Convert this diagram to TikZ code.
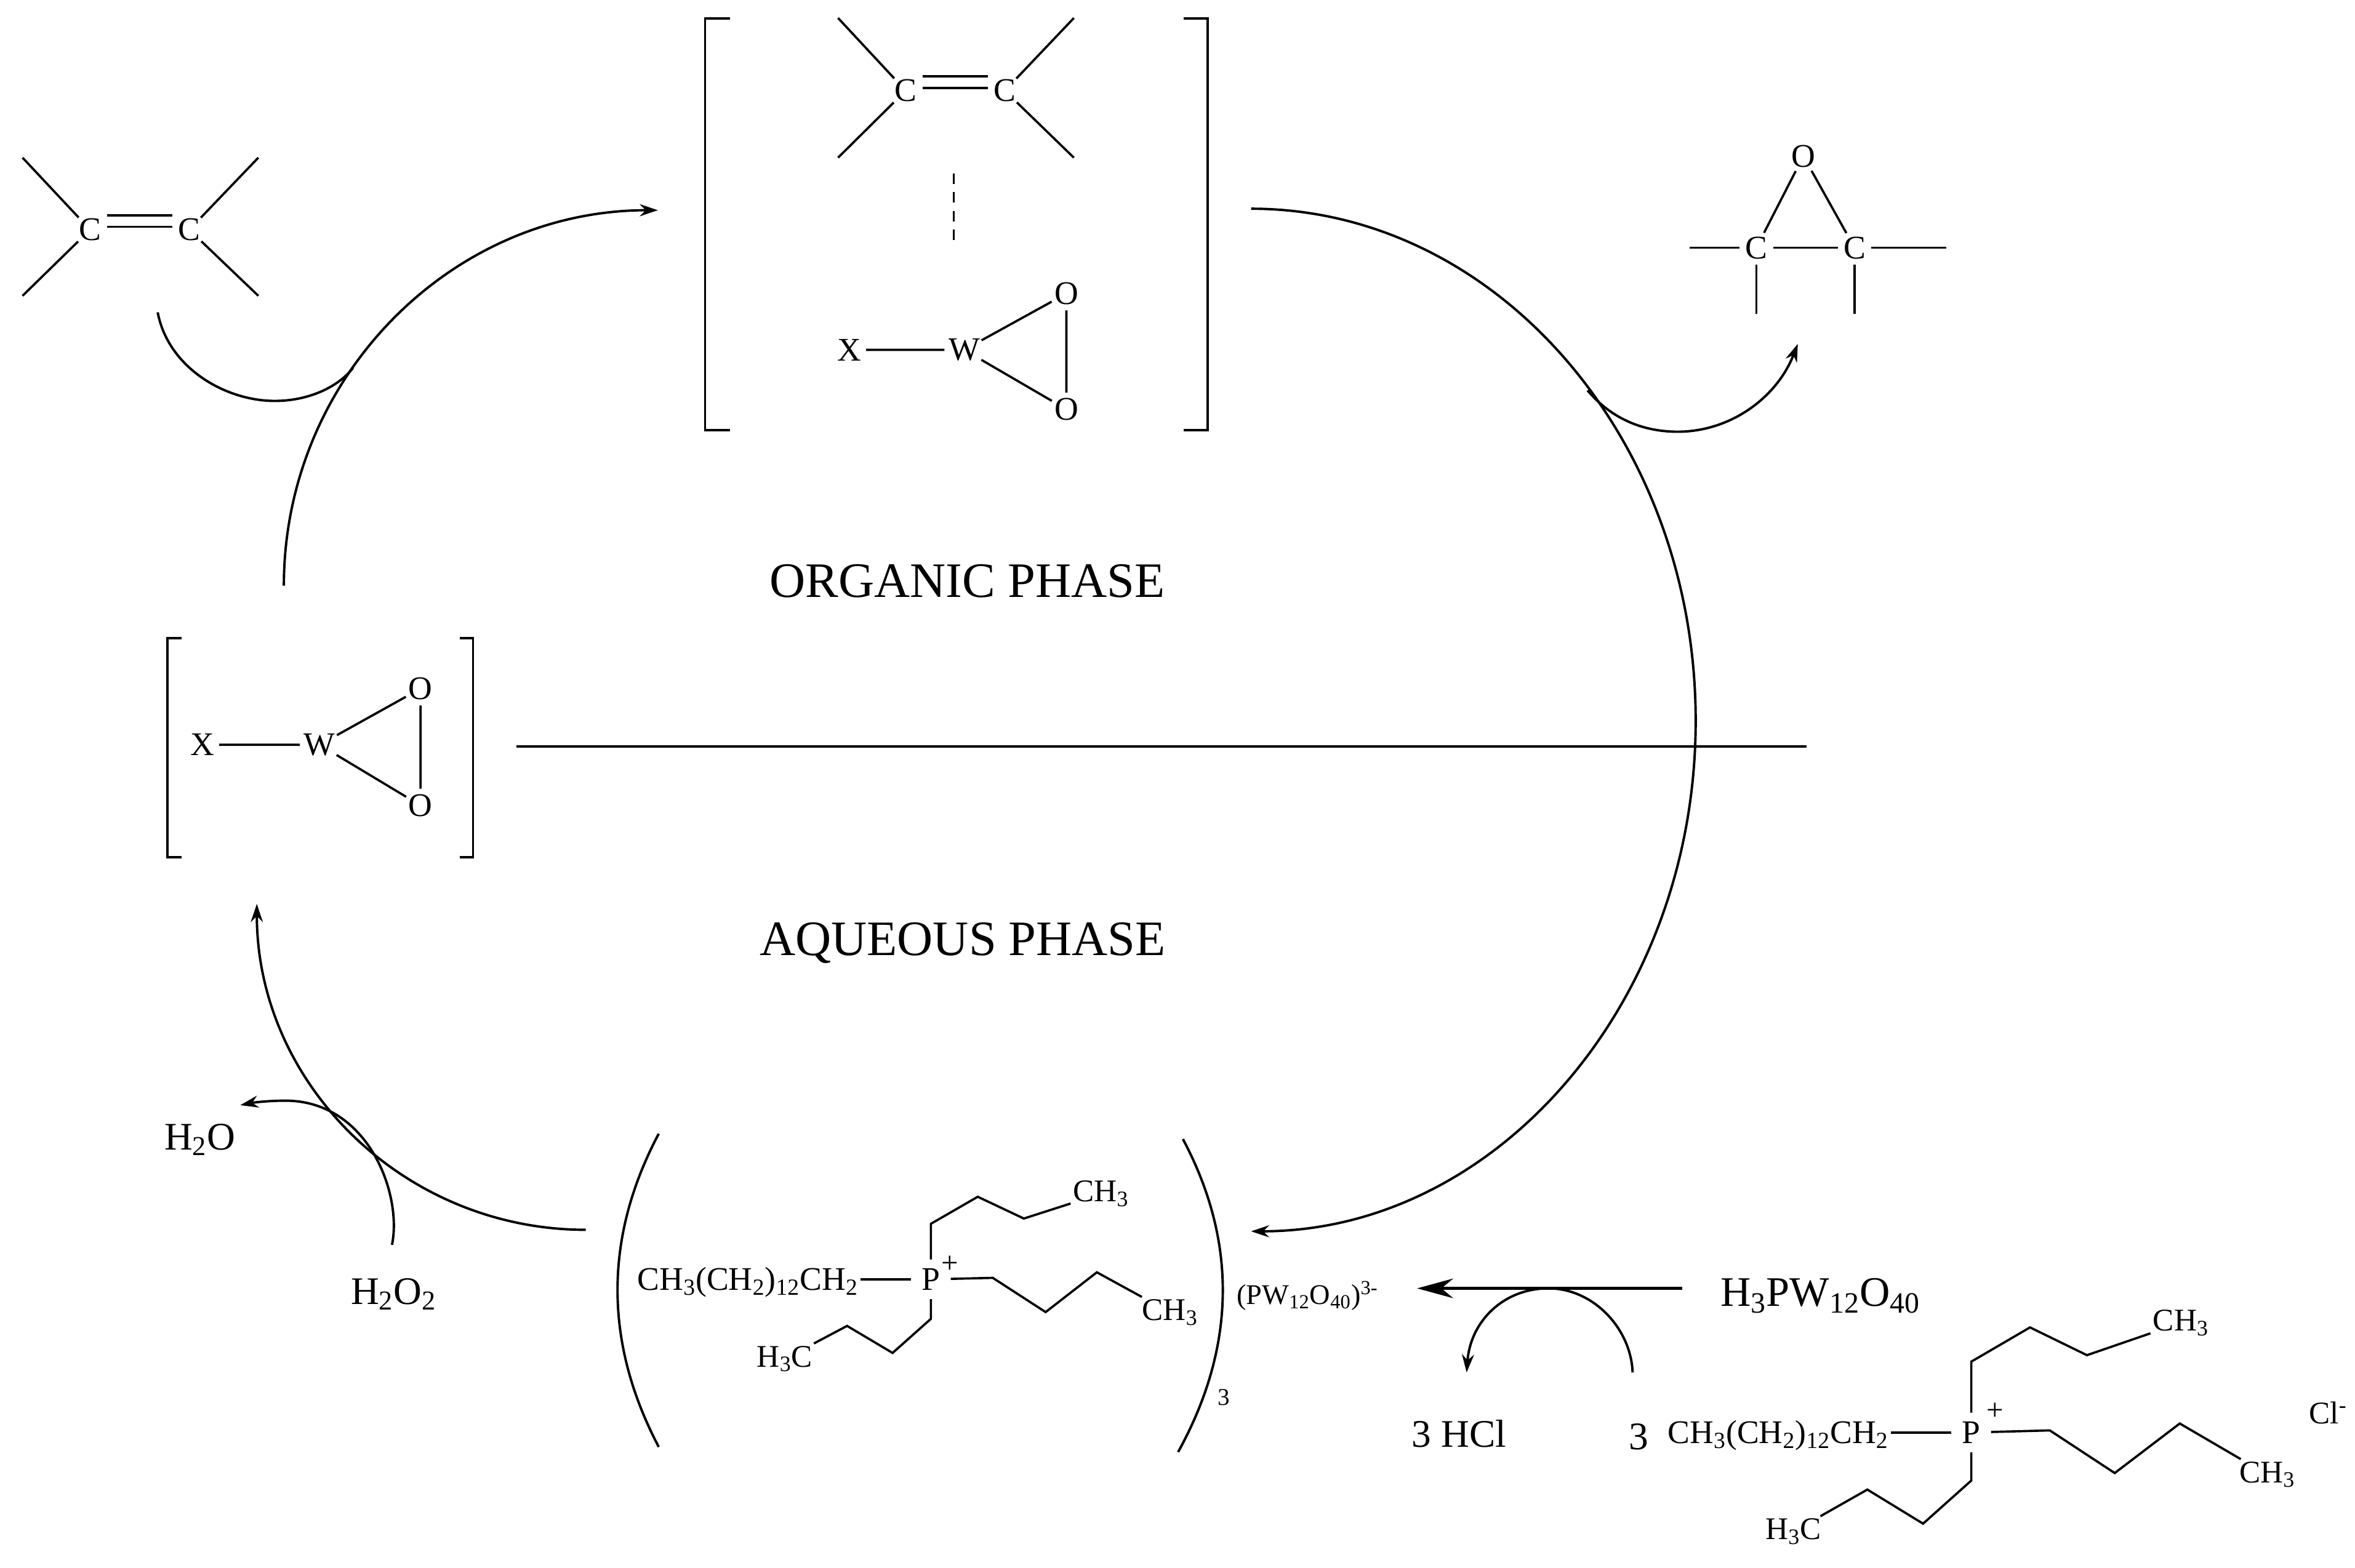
\documentclass[tikz,border=0pt]{standalone}
\usepackage{fontspec}
\setmainfont{Liberation Serif}
\usetikzlibrary{arrows.meta}

\tikzset{
  atom/.style={circle,inner sep=0pt,minimum size=22pt,font=\fontsize{22}{24}\selectfont},
  bigatom/.style={atom,minimum size=26pt},
  group/.style={inner sep=1.5pt,font=\fontsize{21}{24}\selectfont},
  chaingroup/.style={inner sep=1.5pt,font=\fontsize{22}{24}\selectfont},
  reagent/.style={inner sep=1pt,font=\fontsize{26}{30}\selectfont},
  phase/.style={inner sep=1pt,font=\fontsize{33}{38}\selectfont},
  bond/.style={line width=1.5pt},
  curve/.style={line width=1.6pt},
  curvearrow/.style={curve,-{Stealth[length=12pt,width=8pt]}},
}

\begin{document}
\begin{tikzpicture}[x=1pt,y=-1pt]
  \useasboundingbox (0,0) rectangle (1568,1044);

  % alkene, left
  \node[atom] (cL) at (60,153) {C};
  \node[atom] (cR) at (126,153) {C};
  \coordinate (cLa) at (15,105);
  \coordinate (cLb) at (15,197);
  \coordinate (cRa) at (172,105);
  \coordinate (cRb) at (172,197);
  \draw[bond] (cLa) -- (cL) -- (cLb);
  \draw[bond] (cRa) -- (cR) -- (cRb);
  \draw[bond] ([yshift=9.5pt]cL.east) -- ([yshift=9.5pt]cR.west);
  \draw[bond] ([yshift=2pt]cL.east) -- ([yshift=2pt]cR.west);

  % complex in the top bracket
  \node[atom] (cTL) at (603,60.4) {C};
  \node[atom] (cTR) at (669,60.4) {C};
  \coordinate (cTLa) at (558,12);
  \coordinate (cTLb) at (558,105);
  \coordinate (cTRa) at (715,12);
  \coordinate (cTRb) at (715,105);
  \draw[bond] (cTLa) -- (cTL) -- (cTLb);
  \draw[bond] (cTRa) -- (cTR) -- (cTRb);
  \draw[bond] ([yshift=9.6pt]cTL.east) -- ([yshift=9.6pt]cTR.west);
  \draw[bond] ([yshift=1.8pt]cTL.east) -- ([yshift=1.8pt]cTR.west);
  \coordinate (dashA) at (635,115.5);
  \coordinate (dashB) at (635,160);
  \draw[bond,dash pattern=on 7pt off 5.5pt] (dashA) -- (dashB);

  \node[atom] (xT) at (565.5,233) {X};
  \node[bigatom] (wT) at (642,233) {W};
  \node[atom] (oTa) at (710,195.5) {O};
  \node[atom] (oTb) at (710,272.6) {O};
  \draw[bond] (xT) -- (wT) -- (oTa) -- (oTb) -- (wT);

  \coordinate (brTLa) at (486,12.3);
  \coordinate (brTLb) at (469.5,12.3);
  \coordinate (brTLc) at (469.5,286.5);
  \coordinate (brTLd) at (486,286.5);
  \coordinate (brTRa) at (788,12.3);
  \coordinate (brTRb) at (804,12.3);
  \coordinate (brTRc) at (804,286.5);
  \coordinate (brTRd) at (788,286.5);
  \draw[bond] (brTLa) -- (brTLb) -- (brTLc) -- (brTLd);
  \draw[bond] (brTRa) -- (brTRb) -- (brTRc) -- (brTRd);

  % epoxide
  \node[atom] (oE) at (1200.7,104) {O};
  \node[atom] (cEL) at (1169.4,165) {C};
  \node[atom] (cER) at (1234.8,165) {C};
  \coordinate (cELa) at (1125,165);
  \coordinate (cELb) at (1169.4,209);
  \coordinate (cERa) at (1296,165);
  \coordinate (cERb) at (1234.8,209);
  \draw[bond] (cEL) -- (oE) -- (cER);
  \draw[bond] (cELa) -- (cEL) -- (cER) -- (cERa);
  \draw[bond] (cEL) -- (cELb);
  \draw[bond] (cER) -- (cERb);

  % the bracket on the phase line
  \node[atom] (xM) at (134.7,496) {X};
  \node[bigatom] (wM) at (212.8,496) {W};
  \node[atom] (oMa) at (280,458.6) {O};
  \node[atom] (oMb) at (280,536.4) {O};
  \draw[bond] (xM) -- (wM) -- (oMa) -- (oMb) -- (wM);

  \coordinate (brMLa) at (121,425);
  \coordinate (brMLb) at (111.5,425);
  \coordinate (brMLc) at (111.5,571);
  \coordinate (brMLd) at (121,571);
  \coordinate (brMRa) at (306,425);
  \coordinate (brMRb) at (315,425);
  \coordinate (brMRc) at (315,571);
  \coordinate (brMRd) at (306,571);
  \draw[bond] (brMLa) -- (brMLb) -- (brMLc) -- (brMLd);
  \draw[bond] (brMRa) -- (brMRb) -- (brMRc) -- (brMRd);

  \coordinate (lineA) at (344,497);
  \coordinate (lineB) at (1203,497);
  \draw[bond] (lineA) -- (lineB);
  \node[phase] (orgPhase) at (644,387) {ORGANIC PHASE};
  \node[phase] (aqPhase) at (641,628) {AQUEOUS PHASE};

  % the cycle
  \coordinate (cycA) at (189,390);
  \coordinate (cycB) at (438,140);
  \draw[curvearrow] (cycA) .. controls (189,252) and (300,140) .. (cycB);
  \coordinate (cycC) at (833,139);
  \coordinate (cycD) at (1129,480);
  \coordinate (cycE) at (833,820);
  \draw[curvearrow] (cycC) .. controls (996,139) and (1129,292) .. (cycD)
    .. controls (1129,668) and (996,820) .. (cycE);
  \coordinate (cycF) at (390,819);
  \coordinate (cycG) at (171,602);
  \draw[curvearrow] (cycF) .. controls (269,819) and (171,722) .. (cycG);

  % alkene going in
  \coordinate (inA) at (105,208);
  \coordinate (inB) at (183,267);
  \coordinate (inC) at (235,245);
  \draw[curve] (inA) .. controls (112,245) and (150,267) .. (inB)
    .. controls (205,267) and (225,258) .. (inC);

  % epoxide going out
  \coordinate (outA) at (1057,260);
  \coordinate (outB) at (1117,287.5);
  \coordinate (outC) at (1197,229);
  \draw[curvearrow] (outA) .. controls (1073,279) and (1094,287.5) .. (outB)
    .. controls (1152,287.5) and (1183,265) .. (outC);

  % peroxide
  \node[reagent] (hhoo) at (262,862) {H\textsubscript{2}O\textsubscript{2}};
  \node[reagent] (hho) at (133,759) {H\textsubscript{2}O};
  \coordinate (perA) at (261,829);
  \coordinate (perB) at (190,733);
  \coordinate (perC) at (160,736);
  \draw[curvearrow] (perA) .. controls (268,795) and (245,733) .. (perB)
    .. controls (180,733) and (170,734) .. (perC);

  % catalyst
  \coordinate (parLa) at (438.6,755);
  \coordinate (parLb) at (438.6,963.6);
  \coordinate (parRa) at (787.6,758.6);
  \coordinate (parRb) at (784.4,967);
  \draw[curve] (parLa) .. controls (402,824) and (402,894) .. (parLb);
  \draw[curve] (parRa) .. controls (824,827) and (823,897) .. (parRb);
  \node[inner sep=0pt,font=\fontsize{16}{18}\selectfont] (parN) at (815,930.6) {3};
  \node[inner sep=0pt,font=\fontsize{19}{20}\selectfont] (anion) at (870.5,863)
    {(PW\textsubscript{12}O\textsubscript{40})\textsuperscript{3-}};

  \node[bigatom] (pA) at (619.8,852) {P};
  \node[inner sep=0pt,font=\fontsize{20}{22}\selectfont] (plusA) at (632.3,842) {+};
  \node[chaingroup,anchor=east] (chainA) at (573,854) {CH\textsubscript{3}(CH\textsubscript{2})\textsubscript{12}CH\textsubscript{2}};
  \node[group] (meAa) at (733,795) {CH\textsubscript{3}};
  \node[group] (meAb) at (779,874) {CH\textsubscript{3}};
  \node[group] (meAc) at (522.5,905) {H\textsubscript{3}C};
  \coordinate (upAa) at (619.8,815);
  \coordinate (upAb) at (651,797);
  \coordinate (upAc) at (681.7,811.5);
  \coordinate (riAa) at (661,851);
  \coordinate (riAb) at (696.2,873.8);
  \coordinate (riAc) at (730.3,847.3);
  \coordinate (doAa) at (619.8,878.3);
  \coordinate (doAb) at (594.3,901);
  \coordinate (doAc) at (564,883);
  \draw[bond] (chainA.east |- pA) -- (pA);
  \draw[bond] (pA) -- (upAa) -- (upAb) -- (upAc) -- (meAa);
  \draw[bond] (pA) -- (riAa) -- (riAb) -- (riAc) -- (meAb);
  \draw[bond] (pA) -- (doAa) -- (doAb) -- (doAc) -- (meAc);

  % making the catalyst
  \node[reagent,font=\fontsize{28}{30}\selectfont] (hpw) at (1212,863) {H\textsubscript{3}PW\textsubscript{12}O\textsubscript{40}};
  \coordinate (mkA) at (1120,858);
  \coordinate (mkB) at (943.5,858);
  \draw[line width=2.2pt,-{Stealth[length=24pt,width=13pt]}] (mkA) -- (mkB);
  \coordinate (hclA) at (1087,914);
  \coordinate (hclB) at (1031,858);
  \coordinate (hclC) at (976.5,914);
  \draw[curvearrow] (hclA) .. controls (1086,885) and (1061,858) .. (hclB)
    .. controls (1001,858) and (979,880) .. (hclC);
  \node[reagent] (hcl) at (971.5,955) {3 HCl};
  \node[reagent] (three) at (1091,957) {3};

  \node[bigatom] (pB) at (1312.5,954) {P};
  \node[inner sep=0pt,font=\fontsize{20}{22}\selectfont] (plusB) at (1328.5,940) {+};
  \node[chaingroup,anchor=east] (chainB) at (1259,956) {CH\textsubscript{3}(CH\textsubscript{2})\textsubscript{12}CH\textsubscript{2}};
  \node[group] (meBa) at (1452,881) {CH\textsubscript{3}};
  \node[group] (meBb) at (1509.5,982) {CH\textsubscript{3}};
  \node[group] (meBc) at (1194,1020) {H\textsubscript{3}C};
  \coordinate (upBa) at (1312.5,906.8);
  \coordinate (upBb) at (1351.6,884);
  \coordinate (upBc) at (1389.5,902.5);
  \coordinate (riBa) at (1364.8,952.6);
  \coordinate (riBb) at (1408,981);
  \coordinate (riBc) at (1451.3,948);
  \coordinate (doBa) at (1312.5,986);
  \coordinate (doBb) at (1280.4,1014.7);
  \coordinate (doBc) at (1243.3,992);
  \draw[bond] (chainB.east |- pB) -- (pB);
  \draw[bond] (pB) -- (upBa) -- (upBb) -- (upBc) -- (meBa);
  \draw[bond] (pB) -- (riBa) -- (riBb) -- (riBc) -- (meBb);
  \draw[bond] (pB) -- (doBa) -- (doBb) -- (doBc) -- (meBc);
  \node[group] (cl) at (1550,941) {Cl\textsuperscript{-}};
\end{tikzpicture}
\end{document}
